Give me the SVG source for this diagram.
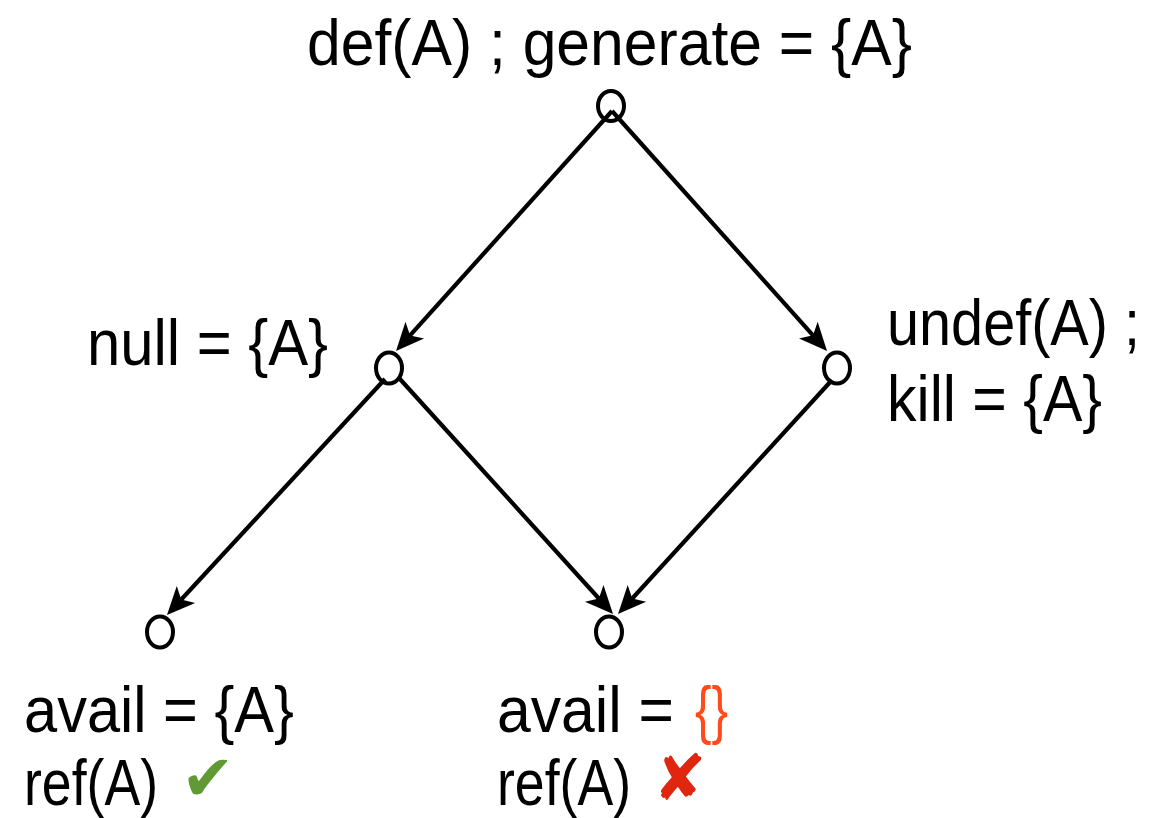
<svg xmlns="http://www.w3.org/2000/svg" width="1173" height="818" viewBox="0 0 1173 818">
<style>
.lbl{font-family:"Liberation Sans",Arial,sans-serif;font-size:64px;fill:#000;}
.lbl.red{fill:#ff4a1c;}
.node{fill:none;stroke:#000;stroke-width:4;}
.edge{stroke:#000;stroke-width:4.2;fill:none;marker-end:url(#arr);}
.sym{font-family:"DejaVu Sans",sans-serif;font-size:64px;}
.ok{fill:#619a35;}
.no{fill:#e0260f;}
</style>
<defs>
<marker id="arr" markerUnits="userSpaceOnUse" viewBox="-14 -14 34 28" refX="0" refY="0" markerWidth="34" markerHeight="28" orient="auto" overflow="visible">
<path d="M17,0 L-11,-12.5 L-4,0 L-11,12.5 Z" fill="#000"/>
</marker>
</defs>
<rect width="1173" height="818" fill="#fff"/>
<g id="connectors">
<line class="edge" x1="612" y1="111" x2="407.4" y2="338.4"/>
<line class="edge" x1="612" y1="111" x2="815.7" y2="338.3"/>
<line class="edge" x1="385" y1="379" x2="178.5" y2="602.5"/>
<line class="edge" x1="399" y1="378" x2="601.6" y2="601.5"/>
<line class="edge" x1="832" y1="380" x2="629.5" y2="601.5"/>
</g>
<g id="n-top">
<ellipse class="node" cx="611" cy="106" rx="13" ry="15"/>
<text class="lbl" x="307" y="65" textLength="605" lengthAdjust="spacingAndGlyphs">def(A) ; generate = {A}</text>
</g>
<g id="n-left">
<ellipse class="node" cx="389" cy="368" rx="13" ry="15.5"/>
<text class="lbl" x="87" y="365" textLength="241" lengthAdjust="spacingAndGlyphs">null = {A}</text>
</g>
<g id="n-right">
<ellipse class="node" cx="837" cy="368" rx="13" ry="15.5"/>
<text class="lbl" x="887" y="345" textLength="253" lengthAdjust="spacingAndGlyphs">undef(A) ;</text>
<text class="lbl" x="887" y="421" textLength="215" lengthAdjust="spacingAndGlyphs">kill = {A}</text>
</g>
<g id="n-bottom-left">
<ellipse class="node" cx="160" cy="632" rx="13" ry="15.5"/>
<text class="lbl" x="24" y="732" textLength="270" lengthAdjust="spacingAndGlyphs">avail = {A}</text>
<text class="lbl" x="24" y="805" textLength="134" lengthAdjust="spacingAndGlyphs">ref(A)</text>
<text class="sym ok" x="181" y="800">✔</text>
</g>
<g id="n-bottom-mid">
<ellipse class="node" cx="609" cy="632" rx="13" ry="15.5"/>
<text class="lbl" x="497" y="732" textLength="177" lengthAdjust="spacingAndGlyphs">avail =</text>
<text class="lbl red" x="695" y="732" textLength="33" lengthAdjust="spacingAndGlyphs">{}</text>
<text class="lbl" x="497" y="805" textLength="134" lengthAdjust="spacingAndGlyphs">ref(A)</text>
<text class="sym no" x="653" y="800">✘</text>
</g>
</svg>
